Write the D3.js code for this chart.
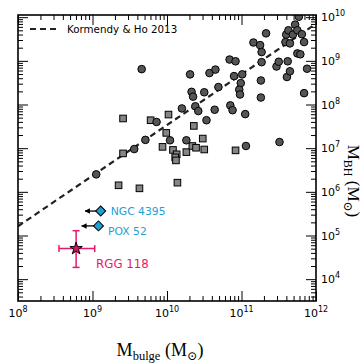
<!DOCTYPE html>
<html>
<head>
<meta charset="utf-8">
<script src="https://cdn.jsdelivr.net/npm/d3@7"></script>
<style>
  body { margin: 0; background: #fff; }
  svg { display: block; }
  text { font-family: "DejaVu Sans", sans-serif; }
</style>
</head>
<body>
<svg id="canvas" width="363" height="363"></svg>
<script>
// all masses are log10(M / Msun)
const circleBulge = [9.05, 9.56, 9.71, 9.66, 9.86, 10.04, 10.20, 10.26, 10.31, 10.33, 10.35, 10.38, 10.42, 10.50, 10.53, 10.57, 10.65, 10.64, 10.69, 10.84, 10.85, 10.88, 10.92, 10.90, 11.01, 10.99, 10.97, 10.98, 11.05, 11.06, 11.16, 11.25, 11.27, 11.27, 11.26, 11.26, 11.33, 11.47, 11.50, 11.51, 11.59, 11.60, 11.62, 11.61, 11.63, 11.65, 11.65, 11.69, 11.72, 11.75, 11.75, 11.77, 11.79, 11.81, 11.84, 11.84, 11.88]
const circleBH = [6.40, 6.98, 7.19, 8.81, 7.60, 7.18, 7.91, 7.18, 8.69, 8.29, 8.18, 7.96, 7.85, 8.28, 7.64, 8.72, 8.80, 7.88, 8.40, 9.03, 7.98, 7.87, 8.99, 8.65, 8.69, 8.49, 8.34, 8.23, 7.78, 7.05, 9.42, 9.36, 9.20, 8.97, 8.55, 8.16, 9.63, 8.87, 8.98, 7.14, 9.43, 9.60, 8.99, 8.63, 9.70, 9.40, 8.76, 9.60, 9.83, 9.70, 9.17, 10.01, 9.15, 9.61, 9.43, 8.26, 8.82]

const squareBulge = [9.35, 9.41, 9.41, 9.63, 9.78, 9.94, 9.99, 10.02, 10.08, 10.13, 10.11, 10.12, 10.14, 10.26, 10.34, 10.36, 10.39, 10.48, 10.50, 10.92]
const squareBH = [6.15, 7.68, 6.88, 6.08, 7.64, 7.03, 7.35, 7.77, 6.96, 6.86, 6.79, 6.72, 6.21, 6.91, 7.05, 7.51, 7.01, 7.22, 6.97, 6.95]

// upper limits on the bulge mass
const limitNames = ['NGC 4395', 'POX 52']
const limitBulge = [9.11, 9.08]
const limitBH = [5.56, 5.22]
const limitArrowTo = [8.90, 8.855]

// RGG 118 with errors
const rggName = 'RGG 118'
const rggBulge = [8.78, 8.55, 9.03]   // value, low, high
const rggBH = [4.70, 4.27, 5.11]

// Kormendy & Ho 2013: M_BH / 1e9 = 0.49 (M_bulge / 1e11)^1.16
const khNorm = 0.49
const khSlope = 1.16

const xMajors = [8, 9, 10, 11, 12]
const yMajors = [4, 5, 6, 7, 8, 9, 10]

const blue = '#1e9fd6'
const pink = '#e6186c'

const padL = 18, padR = 316, padT = 15, padB = 301

let svg = d3.select('#canvas')

let x = d3.scaleLog().domain([1e8, 1e12]).range([padL, padR])
let y = d3.scaleLog().domain([Math.pow(10, 3.5), Math.pow(10, 10.05)]).range([padB, padT])
let p = (v) => Math.pow(10, v)

let minorTicks = (domain) => {
    let out = []
    for (let k = 2; k <= 12; k++) {
        for (let m = 2; m <= 9; m++) {
            let v = m * Math.pow(10, k)
            if (v > domain[0] && v < domain[1]) out.push(v)
        }
    }
    return out
}

let defs = svg.append('defs')
defs.append('clipPath').attr('id', 'clip')
    .append('rect')
    .attr('x', padL).attr('y', padT)
    .attr('width', padR - padL).attr('height', padB - padT)

defs.append('marker')
    .attr('id', 'head')
    .attr('viewBox', '0 0 10 10')
    .attr('refX', 9).attr('refY', 5)
    .attr('markerWidth', 4.2).attr('markerHeight', 4.2)
    .attr('orient', 'auto')
    .append('path')
    .attr('d', 'M0,0 L10,5 L0,10 Z')
    .attr('fill', '#000')

// axes, all ticks pointing inward
let drawAxis = (axisFn, scale, values, size, transform) => {
    let g = svg.append('g')
               .attr('transform', transform)
               .call(axisFn(scale).tickValues(values).tickSize(-size).tickFormat(''))
    g.select('.domain').remove()
    g.selectAll('line').attr('stroke', '#000').attr('stroke-width', 1)
}

let xMaj = xMajors.map(p)
let yMaj = yMajors.map(p)
let xMin = minorTicks(x.domain())
let yMin = minorTicks(y.domain())

drawAxis(d3.axisBottom, x, xMaj, 10, `translate(0,${padB})`)
drawAxis(d3.axisBottom, x, xMin, 5, `translate(0,${padB})`)
drawAxis(d3.axisTop, x, xMaj, 10, `translate(0,${padT})`)
drawAxis(d3.axisTop, x, xMin, 5, `translate(0,${padT})`)
drawAxis(d3.axisLeft, y, yMaj, 10, `translate(${padL},0)`)
drawAxis(d3.axisLeft, y, yMin, 5, `translate(${padL},0)`)
drawAxis(d3.axisRight, y, yMaj, 10, `translate(${padR},0)`)
drawAxis(d3.axisRight, y, yMin, 5, `translate(${padR},0)`)

// tick labels with superscripts
let xLab = svg.selectAll('.xlab').data(xMajors).enter().append('text')
              .attr('x', (d) => x(p(d)))
              .attr('y', padB + 16)
              .attr('text-anchor', 'middle')
              .attr('font-size', 11)
xLab.append('tspan').text('10')
xLab.append('tspan').attr('dy', -5).attr('font-size', 8).text((d) => d)

let yLab = svg.selectAll('.ylab').data(yMajors).enter().append('text')
              .attr('x', padR + 5)
              .attr('y', (d) => y(p(d)) + 4)
              .attr('font-size', 11)
yLab.append('tspan').text('10')
yLab.append('tspan').attr('dy', -5).attr('font-size', 8).text((d) => d)

let plot = svg.append('g').attr('clip-path', 'url(#clip)')

// Kormendy & Ho relation
let kh = (m) => 1e9 * khNorm * Math.pow(m / 1e11, khSlope)
let khLine = d3.line().x((d) => x(d)).y((d) => y(kh(d)))
plot.append('path')
    .attr('d', khLine(x.domain()))
    .attr('fill', 'none')
    .attr('stroke', '#222')
    .attr('stroke-width', 2.2)
    .attr('stroke-dasharray', '6,4')

// squares
plot.selectAll('.sq').data(squareBulge).enter().append('rect')
    .attr('x', (d) => x(p(d)) - 3.3)
    .attr('y', (d, i) => y(p(squareBH[i])) - 3.3)
    .attr('width', 6.6).attr('height', 6.6)
    .attr('fill', '#858585')
    .attr('stroke', '#000')
    .attr('stroke-width', 1)

// circles
plot.selectAll('.ci').data(circleBulge).enter().append('circle')
    .attr('cx', (d) => x(p(d)))
    .attr('cy', (d, i) => y(p(circleBH[i])))
    .attr('r', 3.8)
    .attr('fill', '#555')
    .attr('stroke', '#000')
    .attr('stroke-width', 1)

// upper limits
limitNames.forEach((name, i) => {
    let cx = x(p(limitBulge[i])), cy = y(p(limitBH[i]))
    svg.append('line')
       .attr('x1', cx).attr('y1', cy)
       .attr('x2', x(p(limitArrowTo[i]))).attr('y2', cy)
       .attr('stroke', '#000').attr('stroke-width', 1.3)
       .attr('marker-end', 'url(#head)')
    svg.append('path')
       .attr('d', d3.symbol(d3.symbolSquare, 50)())
       .attr('transform', `translate(${cx},${cy}) rotate(45)`)
       .attr('fill', blue)
       .attr('stroke', '#000')
       .attr('stroke-width', 1)
    svg.append('text')
       .attr('x', cx + (i === 0 ? 10 : 9.5))
       .attr('y', cy + (i === 0 ? 4 : 9))
       .attr('font-size', 10.8)
       .attr('fill', blue)
       .text(name)
})

// RGG 118 with error bars
let rx = x(p(rggBulge[0])), ry = y(p(rggBH[0]))
let eb = svg.append('g').attr('stroke', pink).attr('stroke-width', 1.5)
let xl = x(p(rggBulge[1])), xh = x(p(rggBulge[2]))
let yl = y(p(rggBH[1])), yh = y(p(rggBH[2]))
eb.append('line').attr('x1', xl).attr('x2', xh).attr('y1', ry).attr('y2', ry)
eb.append('line').attr('x1', rx).attr('x2', rx).attr('y1', yl).attr('y2', yh)
;[xl, xh].forEach((v) => eb.append('line').attr('x1', v).attr('x2', v).attr('y1', ry - 3.5).attr('y2', ry + 3.5))
;[yl, yh].forEach((v) => eb.append('line').attr('y1', v).attr('y2', v).attr('x1', rx - 3.5).attr('x2', rx + 3.5))
svg.append('path')
   .attr('d', d3.symbol(d3.symbolStar, 48)())
   .attr('transform', `translate(${rx},${ry})`)
   .attr('fill', '#cf1560')
   .attr('stroke', '#000')
   .attr('stroke-width', 1)
svg.append('text')
   .attr('x', rx + 20).attr('y', ry + 19)
   .attr('font-size', 11.8)
   .attr('fill', pink)
   .text(rggName)

// legend
svg.append('line')
   .attr('x1', 30).attr('x2', 56).attr('y1', 29).attr('y2', 29)
   .attr('stroke', '#222').attr('stroke-width', 2.2).attr('stroke-dasharray', '6,4')
svg.append('text')
   .attr('x', 67).attr('y', 33)
   .attr('font-size', 10.3)
   .text('Kormendy & Ho 2013')

// frame
svg.append('rect')
   .attr('x', padL).attr('y', padT)
   .attr('width', padR - padL).attr('height', padB - padT)
   .attr('fill', 'none')
   .attr('stroke', '#000')
   .attr('stroke-width', 1.6)

// axis titles
let serif = '"Liberation Serif", "DejaVu Serif", serif'
let xt = svg.append('text')
            .attr('x', (padL + padR) / 2 - 7).attr('y', 356)
            .attr('text-anchor', 'middle')
            .style('font-family', serif)
            .attr('font-size', 18)
xt.append('tspan').text('M')
xt.append('tspan').attr('dy', 4).attr('font-size', 12.5).text('bulge')
xt.append('tspan').attr('dy', -4).text(' (M')
xt.append('tspan').attr('dy', 4).attr('font-size', 12.5).text('⊙')
xt.append('tspan').attr('dy', -4).text(')')

let yt = svg.append('text')
            .attr('transform', 'translate(348,181) rotate(90)')
            .attr('text-anchor', 'middle')
            .style('font-family', serif)
            .attr('font-size', 17)
yt.append('tspan').text('M')
yt.append('tspan').attr('dy', 4).attr('font-size', 12).text('BH')
yt.append('tspan').attr('dy', -4).text(' (M')
yt.append('tspan').attr('dy', 4).attr('font-size', 12).text('⊙')
yt.append('tspan').attr('dy', -4).text(')')
</script>
</body>
</html>
